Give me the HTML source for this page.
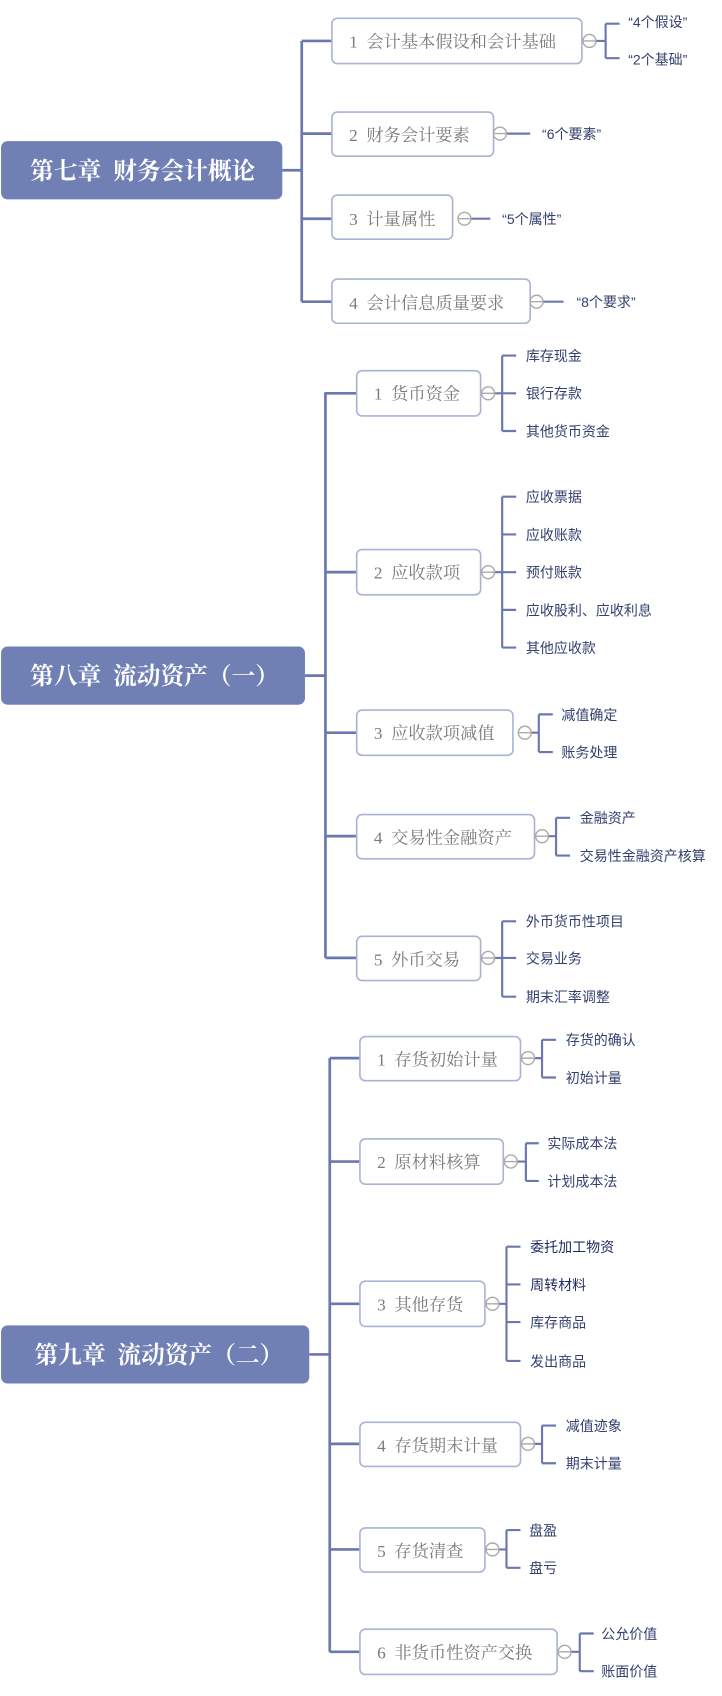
<!DOCTYPE html>
<html><head><meta charset="utf-8">
<style>
html,body{margin:0;padding:0;background:#fff;}
svg{display:block;}
.root{fill:#fff;font-family:"Liberation Serif","Noto Serif CJK SC",serif;font-size:22px;font-weight:bold;}
.bx{fill:#7a7a7a;font-family:"Liberation Serif","Noto Serif CJK SC",serif;font-size:16px;}
.ch{fill:#34406e;font-family:"Liberation Sans","Noto Sans CJK SC",sans-serif;font-size:13px;}
.ln{stroke:#6b78b0;stroke-width:2.5;fill:none;}
.ln2{stroke:#6b78b0;stroke-width:2;fill:none;}
.box{fill:#fff;stroke:#aab3d6;stroke-width:1.5;}
.cir{fill:#fff;stroke:#aaa;stroke-width:1.3;}
.mn{stroke:#aaa;stroke-width:1.3;}
</style></head>
<body>
<svg width="722" height="1696" viewBox="0 0 670 1574" preserveAspectRatio="none" xmlns="http://www.w3.org/2000/svg">
<!-- Chapter 7 -->
<path class="ln" d="M262 158H280M280 38V280M280 38H308M280 124H308M280 203H308M280 280H308"/>
<rect x="1" y="131" width="261" height="54" rx="6" fill="#7080b5"/>
<text class="root" x="28" y="166">第七章&#160;&#160;财务会计概论</text>
<rect class="box" x="308" y="17" width="232" height="42" rx="5"/><text class="bx" x="324" y="44">1&#160;&#160;会计基本假设和会计基础</text>
<rect class="box" x="308" y="104" width="150" height="41" rx="5"/><text class="bx" x="324" y="131">2&#160;&#160;财务会计要素</text>
<rect class="box" x="308" y="181" width="112" height="41" rx="5"/><text class="bx" x="324" y="209">3&#160;&#160;计量属性</text>
<rect class="box" x="308" y="259" width="184" height="41" rx="5"/><text class="bx" x="324" y="287">4&#160;&#160;会计信息质量要求</text>
<path class="ln2" d="M553 38H562M562 22V54M562 22H575M562 54H575M470 124H492M437 203H455M504 280H523"/>
<circle class="cir" cx="547" cy="38" r="6"/><circle class="cir" cx="464" cy="124" r="6"/><circle class="cir" cx="431" cy="203" r="6"/><circle class="cir" cx="498" cy="280" r="6"/>
<path class="mn" d="M541 38h12M458 124h12M425 203h12M492 280h12"/>
<text class="ch" x="583" y="25">“4个假设”</text><text class="ch" x="583" y="60">“2个基础”</text>
<text class="ch" x="503" y="129">“6个要素”</text><text class="ch" x="466" y="208">“5个属性”</text><text class="ch" x="535" y="285">“8个要求”</text>

<!-- Chapter 8 -->
<path class="ln" d="M283 627H302M302 364V889M302 365H331M302 531H331M302 680H331M302 776H331M302 889H331"/>
<rect x="1" y="600" width="282" height="54" rx="6" fill="#7080b5"/>
<text class="root" x="28" y="635">第八章&#160;&#160;流动资产（一）</text>
<rect class="box" x="331" y="344" width="115" height="42" rx="5"/><text class="bx" x="347" y="371">1&#160;&#160;货币资金</text>
<rect class="box" x="331" y="510" width="115" height="42" rx="5"/><text class="bx" x="347" y="537">2&#160;&#160;应收款项</text>
<rect class="box" x="331" y="659" width="145" height="42" rx="5"/><text class="bx" x="347" y="686">3&#160;&#160;应收款项减值</text>
<rect class="box" x="331" y="756" width="165" height="41" rx="5"/><text class="bx" x="347" y="783">4&#160;&#160;交易性金融资产</text>
<rect class="box" x="331" y="869" width="115" height="41" rx="5"/><text class="bx" x="347" y="896">5&#160;&#160;外币交易</text>
<path class="ln2" d="M459 365H466M466 330V400M466 330H479M466 365H479M466 400H479
M459 531H466M466 461V601M466 461H479M466 496H479M466 531H479M466 566H479M466 601H479
M493 680H500M500 663V698M500 663H513M500 698H513
M509 776H516M516 759V794M516 759H529M516 794H529
M459 889H466M466 855V925M466 855H479M466 889H479M466 925H479"/>
<circle class="cir" cx="453" cy="365" r="6"/><circle class="cir" cx="453" cy="531" r="6"/><circle class="cir" cx="487" cy="680" r="6"/><circle class="cir" cx="503" cy="776" r="6"/><circle class="cir" cx="453" cy="889" r="6"/>
<path class="mn" d="M447 365h12M447 531h12M481 680h12M497 776h12M447 889h12"/>
<text class="ch" x="488" y="335">库存现金</text><text class="ch" x="488" y="370">银行存款</text><text class="ch" x="488" y="405">其他货币资金</text>
<text class="ch" x="488" y="466">应收票据</text><text class="ch" x="488" y="501">应收账款</text><text class="ch" x="488" y="536">预付账款</text><text class="ch" x="488" y="571">应收股利、应收利息</text><text class="ch" x="488" y="606">其他应收款</text>
<text class="ch" x="521" y="668">减值确定</text><text class="ch" x="521" y="703">账务处理</text>
<text class="ch" x="538" y="764">金融资产</text><text class="ch" x="538" y="799">交易性金融资产核算</text>
<text class="ch" x="488" y="860">外币货币性项目</text><text class="ch" x="488" y="894">交易业务</text><text class="ch" x="488" y="930">期末汇率调整</text>

<!-- Chapter 9 -->
<path class="ln" d="M287 1257H306M306 982V1533M306 982H334M306 1078H334M306 1210H334M306 1340H334M306 1438H334M306 1533H334"/>
<rect x="1" y="1230" width="286" height="54" rx="6" fill="#7080b5"/>
<text class="root" x="32" y="1265">第九章&#160;&#160;流动资产（二）</text>
<rect class="box" x="334" y="962" width="149" height="41" rx="5"/><text class="bx" x="350" y="989">1&#160;&#160;存货初始计量</text>
<rect class="box" x="334" y="1057" width="133" height="42" rx="5"/><text class="bx" x="350" y="1084">2&#160;&#160;原材料核算</text>
<rect class="box" x="334" y="1189" width="116" height="42" rx="5"/><text class="bx" x="350" y="1216">3&#160;&#160;其他存货</text>
<rect class="box" x="334" y="1320" width="149" height="41" rx="5"/><text class="bx" x="350" y="1347">4&#160;&#160;存货期末计量</text>
<rect class="box" x="334" y="1418" width="116" height="41" rx="5"/><text class="bx" x="350" y="1445">5&#160;&#160;存货清查</text>
<rect class="box" x="334" y="1512" width="183" height="42" rx="5"/><text class="bx" x="350" y="1539">6&#160;&#160;非货币性资产交换</text>
<path class="ln2" d="M496 982H503M503 965V1000M503 965H516M503 1000H516
M480 1078H488M488 1061V1096M488 1061H500M488 1096H500
M463 1210H470M470 1157V1263M470 1157H483M470 1192H483M470 1227H483M470 1263H483
M496 1340H503M503 1323V1358M503 1323H516M503 1358H516
M463 1438H470M470 1420V1455M470 1420H483M470 1455H483
M530 1533H538M538 1516V1551M538 1516H551M538 1551H551"/>
<circle class="cir" cx="490" cy="982" r="6"/><circle class="cir" cx="474" cy="1078" r="6"/><circle class="cir" cx="457" cy="1210" r="6"/><circle class="cir" cx="490" cy="1340" r="6"/><circle class="cir" cx="457" cy="1438" r="6"/><circle class="cir" cx="524" cy="1533" r="6"/>
<path class="mn" d="M484 982h12M468 1078h12M451 1210h12M484 1340h12M451 1438h12M518 1533h12"/>
<text class="ch" x="525" y="970">存货的确认</text><text class="ch" x="525" y="1005">初始计量</text>
<text class="ch" x="508" y="1066">实际成本法</text><text class="ch" x="508" y="1101">计划成本法</text>
<text class="ch" x="492" y="1162" style="fill:#1e2a5e">委托加工物资</text><text class="ch" x="492" y="1197" style="fill:#1e2a5e">周转材料</text><text class="ch" x="492" y="1232">库存商品</text><text class="ch" x="492" y="1268">发出商品</text>
<text class="ch" x="525" y="1328">减值迹象</text><text class="ch" x="525" y="1363">期末计量</text>
<text class="ch" x="491" y="1425">盘盈</text><text class="ch" x="491" y="1460">盘亏</text>
<text class="ch" x="558" y="1521">公允价值</text><text class="ch" x="558" y="1556">账面价值</text>
</svg>
</body></html>
